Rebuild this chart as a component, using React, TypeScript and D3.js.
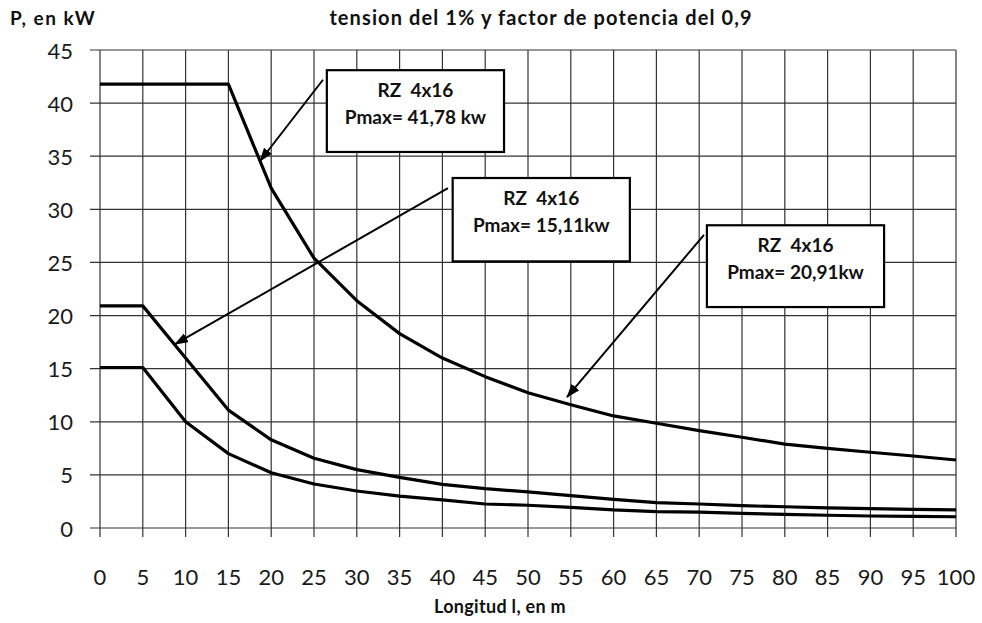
import React from 'react';
import * as d3 from 'd3';

// Longitud l (m) against P (kW)
const lengths = [0, 5, 10, 15, 20, 25, 30, 35, 40, 45, 50, 55, 60, 65, 70, 75, 80, 85, 90, 95, 100];
const p4178 = [41.78, 41.78, 41.78, 41.78, 32.0, 25.4, 21.4, 18.3, 16.0, 14.25, 12.74, 11.6, 10.55, 9.86, 9.16, 8.54, 7.9, 7.5, 7.13, 6.78, 6.4];
const p2091 = [20.91, 20.91, 16.0, 11.1, 8.3, 6.56, 5.5, 4.76, 4.1, 3.7, 3.4, 3.04, 2.7, 2.38, 2.26, 2.1, 2.0, 1.9, 1.82, 1.76, 1.7];
const p1511 = [15.11, 15.11, 10.0, 7.0, 5.2, 4.14, 3.48, 3.0, 2.64, 2.26, 2.14, 1.95, 1.7, 1.54, 1.5, 1.38, 1.29, 1.2, 1.13, 1.1, 1.06];

const xTicks = d3.range(0, 101, 5);
const yTicks = d3.range(0, 46, 5);

const noteTitles = ['RZ  4x16', 'RZ  4x16', 'RZ  4x16'];
const noteValues = ['Pmax= 41,78 kw', 'Pmax= 15,11kw', 'Pmax= 20,91kw'];

const title = 'tension del 1% y factor de potencia del 0,9';
const yTitle = 'P, en kW';
const xTitle = 'Longitud l, en m';

const W = 982;
const H = 623;
const FONT = 'Lato, "Open Sans", sans-serif';

// box corners and arrow ends, in data units
const noteLayout = [
  { x0: 26.5, x1: 47.2, y0: 43.1, y1: 35.4, from: [26.05, 42.2], to: [18.7, 34.55] },
  { x0: 41.2, x1: 61.9, y0: 32.95, y1: 25.1, from: [40.65, 32.0], to: [8.76, 17.3] },
  { x0: 70.9, x1: 91.6, y0: 28.5, y1: 20.8, from: [70.56, 27.6], to: [54.56, 12.33] },
];

export default function App() {
  const x = d3.scaleLinear().domain([0, 100]).range([100, 956]);
  const y = d3.scaleLinear().domain([0, 45]).range([528, 50]);

  const line = d3.line<number>()
    .x((_, i) => x(lengths[i]))
    .y(d => y(d));

  const series = [p4178, p2091, p1511];

  return (
    <div style={{ position: 'absolute', left: 0, top: 0 }}>
      <svg width={W} height={H} style={{ display: 'block', background: '#fff' }}>
        <defs>
          <marker id="arrow" viewBox="0 0 14 10" refX="13" refY="5" markerWidth="14" markerHeight="10"
            markerUnits="userSpaceOnUse" orient="auto">
            <path d="M0,0 L14,5 L0,10 Z" fill="#000" />
          </marker>
        </defs>

        {/* grid */}
        <g stroke="#333" strokeWidth={1.2}>
          {yTicks.map(t => (
            <line key={'h' + t} x1={90} x2={x(100)} y1={y(t)} y2={y(t)} />
          ))}
          {xTicks.map(t => (
            <line key={'v' + t} x1={x(t)} x2={x(t)} y1={y(45)} y2={y(0) + 9} />
          ))}
        </g>

        {/* tick labels */}
        <g fontFamily={FONT} fontSize={22} fill="#1a1a1a">
          {yTicks.map(t => (
            <text key={'yl' + t} x={73} y={y(t)} textAnchor="end" dominantBaseline="central">{t}</text>
          ))}
          {xTicks.map(t => (
            <text key={'xl' + t} x={x(t)} y={576} textAnchor="middle" dominantBaseline="central">{t}</text>
          ))}
        </g>

        {/* curves */}
        {series.map((s, i) => (
          <path key={'s' + i} d={line(s) || ''} fill="none" stroke="#000" strokeWidth={3.2} strokeLinejoin="round" />
        ))}

        {/* annotations */}
        {noteLayout.map((n, i) => {
          const bx = x(n.x0), by = y(n.y0);
          const bw = x(n.x1) - bx, bh = y(n.y1) - by;
          return (
            <g key={'n' + i}>
              <line x1={x(n.from[0])} y1={y(n.from[1])} x2={x(n.to[0])} y2={y(n.to[1])}
                stroke="#000" strokeWidth={2} markerEnd="url(#arrow)" />
              <rect x={bx} y={by} width={bw} height={bh} fill="#fff" stroke="#000" strokeWidth={2.2} />
              <text x={bx + bw / 2} y={by + 27} textAnchor="middle" fontFamily={FONT} fontWeight="bold" fontSize={19}
                fill="#111" style={{ whiteSpace: 'pre' }}>{noteTitles[i]}</text>
              <text x={bx + bw / 2} y={by + 54} textAnchor="middle" fontFamily={FONT} fontWeight="bold" fontSize={19}
                fill="#111">{noteValues[i]}</text>
            </g>
          );
        })}

        {/* titles */}
        <text x={541} y={25} textAnchor="middle" fontFamily={FONT} fontWeight="bold" fontSize={20}
          letterSpacing={1.1} fill="#111">{title}</text>
        <text x={10} y={25} fontFamily={FONT} fontWeight="bold" fontSize={19} letterSpacing={1.5} fill="#111">{yTitle}</text>
        <text x={500} y={613} textAnchor="middle" fontFamily={FONT} fontWeight="bold" fontSize={18}
          letterSpacing={0.3} fill="#111">{xTitle}</text>
      </svg>
    </div>
  );
}
